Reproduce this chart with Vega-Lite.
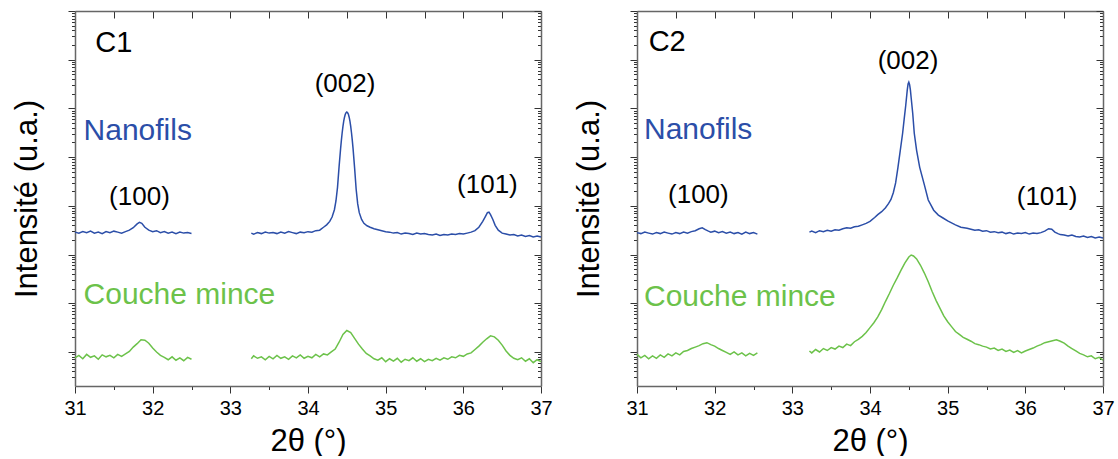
{
"$schema": "https://vega.github.io/schema/vega-lite/v6.json",
"background": "white",
"padding": {"left": 11, "top": 10, "right": 4, "bottom": 0},
"config": {
  "view": {"stroke": null},
  "font": "Liberation Sans",
  "axis": {"grid": false, "labelFont": "Liberation Sans", "titleFont": "Liberation Sans", "labelColor": "#000", "titleColor": "#000", "domainColor": "#666", "domainWidth": 1.5, "tickColor": "#333", "tickWidth": 1, "titleFontWeight": "normal"},
  "text": {"font": "Liberation Sans"}
},
"datasets": {
"c1": [
{"x":31.00,"s":"N","g":1,"i":3.46},{"x":31.05,"s":"N","g":1,"i":3.44},{"x":31.10,"s":"N","g":1,"i":3.47},{"x":31.15,"s":"N","g":1,"i":3.45},{"x":31.20,"s":"N","g":1,"i":3.48},{"x":31.25,"s":"N","g":1,"i":3.44},{"x":31.30,"s":"N","g":1,"i":3.46},{"x":31.35,"s":"N","g":1,"i":3.43},{"x":31.40,"s":"N","g":1,"i":3.47},{"x":31.45,"s":"N","g":1,"i":3.45},{"x":31.50,"s":"N","g":1,"i":3.48},{"x":31.55,"s":"N","g":1,"i":3.46},{"x":31.60,"s":"N","g":1,"i":3.44},{"x":31.65,"s":"N","g":1,"i":3.47},{"x":31.70,"s":"N","g":1,"i":3.50},{"x":31.75,"s":"N","g":1,"i":3.55},{"x":31.80,"s":"N","g":1,"i":3.63},{"x":31.83,"s":"N","g":1,"i":3.66},{"x":31.86,"s":"N","g":1,"i":3.64},{"x":31.90,"s":"N","g":1,"i":3.56},{"x":31.95,"s":"N","g":1,"i":3.50},{"x":32.00,"s":"N","g":1,"i":3.47},{"x":32.05,"s":"N","g":1,"i":3.49},{"x":32.10,"s":"N","g":1,"i":3.45},{"x":32.15,"s":"N","g":1,"i":3.47},{"x":32.20,"s":"N","g":1,"i":3.44},{"x":32.25,"s":"N","g":1,"i":3.46},{"x":32.30,"s":"N","g":1,"i":3.43},{"x":32.35,"s":"N","g":1,"i":3.46},{"x":32.40,"s":"N","g":1,"i":3.44},{"x":32.45,"s":"N","g":1,"i":3.45},{"x":32.50,"s":"N","g":1,"i":3.43},
{"x":33.27,"s":"N","g":2,"i":3.44},{"x":33.30,"s":"N","g":2,"i":3.42},{"x":33.35,"s":"N","g":2,"i":3.45},{"x":33.40,"s":"N","g":2,"i":3.43},{"x":33.45,"s":"N","g":2,"i":3.46},{"x":33.50,"s":"N","g":2,"i":3.44},{"x":33.55,"s":"N","g":2,"i":3.45},{"x":33.60,"s":"N","g":2,"i":3.43},{"x":33.65,"s":"N","g":2,"i":3.46},{"x":33.70,"s":"N","g":2,"i":3.44},{"x":33.75,"s":"N","g":2,"i":3.47},{"x":33.80,"s":"N","g":2,"i":3.45},{"x":33.85,"s":"N","g":2,"i":3.43},{"x":33.90,"s":"N","g":2,"i":3.46},{"x":33.95,"s":"N","g":2,"i":3.45},{"x":34.00,"s":"N","g":2,"i":3.47},{"x":34.05,"s":"N","g":2,"i":3.46},{"x":34.10,"s":"N","g":2,"i":3.49},{"x":34.15,"s":"N","g":2,"i":3.50},{"x":34.20,"s":"N","g":2,"i":3.56},{"x":34.24,"s":"N","g":2,"i":3.61},{"x":34.28,"s":"N","g":2,"i":3.68},{"x":34.31,"s":"N","g":2,"i":3.77},{"x":34.34,"s":"N","g":2,"i":3.92},{"x":34.36,"s":"N","g":2,"i":4.10},{"x":34.38,"s":"N","g":2,"i":4.38},{"x":34.40,"s":"N","g":2,"i":4.80},{"x":34.42,"s":"N","g":2,"i":5.18},{"x":34.43,"s":"N","g":2,"i":5.35},{"x":34.44,"s":"N","g":2,"i":5.50},{"x":34.45,"s":"N","g":2,"i":5.63},{"x":34.46,"s":"N","g":2,"i":5.74},{"x":34.47,"s":"N","g":2,"i":5.82},{"x":34.48,"s":"N","g":2,"i":5.88},{"x":34.49,"s":"N","g":2,"i":5.91},{"x":34.50,"s":"N","g":2,"i":5.925},{"x":34.51,"s":"N","g":2,"i":5.91},{"x":34.52,"s":"N","g":2,"i":5.88},{"x":34.53,"s":"N","g":2,"i":5.82},{"x":34.54,"s":"N","g":2,"i":5.74},{"x":34.55,"s":"N","g":2,"i":5.63},{"x":34.56,"s":"N","g":2,"i":5.50},{"x":34.57,"s":"N","g":2,"i":5.35},{"x":34.58,"s":"N","g":2,"i":5.18},{"x":34.60,"s":"N","g":2,"i":4.78},{"x":34.62,"s":"N","g":2,"i":4.34},{"x":34.64,"s":"N","g":2,"i":4.04},{"x":34.66,"s":"N","g":2,"i":3.86},{"x":34.69,"s":"N","g":2,"i":3.72},{"x":34.72,"s":"N","g":2,"i":3.64},{"x":34.76,"s":"N","g":2,"i":3.59},{"x":34.80,"s":"N","g":2,"i":3.56},{"x":34.85,"s":"N","g":2,"i":3.53},{"x":34.90,"s":"N","g":2,"i":3.51},{"x":34.95,"s":"N","g":2,"i":3.49},{"x":35.00,"s":"N","g":2,"i":3.47},{"x":35.05,"s":"N","g":2,"i":3.46},{"x":35.10,"s":"N","g":2,"i":3.44},{"x":35.15,"s":"N","g":2,"i":3.45},{"x":35.20,"s":"N","g":2,"i":3.42},{"x":35.25,"s":"N","g":2,"i":3.44},{"x":35.30,"s":"N","g":2,"i":3.43},{"x":35.35,"s":"N","g":2,"i":3.41},{"x":35.40,"s":"N","g":2,"i":3.44},{"x":35.45,"s":"N","g":2,"i":3.42},{"x":35.50,"s":"N","g":2,"i":3.43},{"x":35.55,"s":"N","g":2,"i":3.41},{"x":35.60,"s":"N","g":2,"i":3.40},{"x":35.65,"s":"N","g":2,"i":3.42},{"x":35.70,"s":"N","g":2,"i":3.39},{"x":35.75,"s":"N","g":2,"i":3.41},{"x":35.80,"s":"N","g":2,"i":3.40},{"x":35.85,"s":"N","g":2,"i":3.42},{"x":35.90,"s":"N","g":2,"i":3.41},{"x":35.95,"s":"N","g":2,"i":3.43},{"x":36.00,"s":"N","g":2,"i":3.42},{"x":36.05,"s":"N","g":2,"i":3.44},{"x":36.10,"s":"N","g":2,"i":3.46},{"x":36.15,"s":"N","g":2,"i":3.49},{"x":36.20,"s":"N","g":2,"i":3.56},{"x":36.25,"s":"N","g":2,"i":3.68},{"x":36.28,"s":"N","g":2,"i":3.77},{"x":36.31,"s":"N","g":2,"i":3.86},{"x":36.33,"s":"N","g":2,"i":3.87},{"x":36.35,"s":"N","g":2,"i":3.82},{"x":36.38,"s":"N","g":2,"i":3.72},{"x":36.41,"s":"N","g":2,"i":3.60},{"x":36.45,"s":"N","g":2,"i":3.50},{"x":36.50,"s":"N","g":2,"i":3.44},{"x":36.55,"s":"N","g":2,"i":3.42},{"x":36.60,"s":"N","g":2,"i":3.40},{"x":36.65,"s":"N","g":2,"i":3.41},{"x":36.70,"s":"N","g":2,"i":3.38},{"x":36.75,"s":"N","g":2,"i":3.40},{"x":36.80,"s":"N","g":2,"i":3.37},{"x":36.85,"s":"N","g":2,"i":3.39},{"x":36.90,"s":"N","g":2,"i":3.36},{"x":36.95,"s":"N","g":2,"i":3.38},{"x":37.00,"s":"N","g":2,"i":3.36},
{"x":31.00,"s":"C","g":1,"i":0.88},{"x":31.05,"s":"C","g":1,"i":0.93},{"x":31.10,"s":"C","g":1,"i":0.86},{"x":31.15,"s":"C","g":1,"i":0.95},{"x":31.20,"s":"C","g":1,"i":0.89},{"x":31.25,"s":"C","g":1,"i":0.92},{"x":31.30,"s":"C","g":1,"i":0.85},{"x":31.35,"s":"C","g":1,"i":0.94},{"x":31.40,"s":"C","g":1,"i":0.90},{"x":31.45,"s":"C","g":1,"i":0.93},{"x":31.50,"s":"C","g":1,"i":0.88},{"x":31.55,"s":"C","g":1,"i":0.95},{"x":31.60,"s":"C","g":1,"i":0.91},{"x":31.65,"s":"C","g":1,"i":0.96},{"x":31.70,"s":"C","g":1,"i":1.01},{"x":31.75,"s":"C","g":1,"i":1.10},{"x":31.80,"s":"C","g":1,"i":1.17},{"x":31.85,"s":"C","g":1,"i":1.25},{"x":31.90,"s":"C","g":1,"i":1.24},{"x":31.95,"s":"C","g":1,"i":1.18},{"x":32.00,"s":"C","g":1,"i":1.08},{"x":32.05,"s":"C","g":1,"i":1.00},{"x":32.10,"s":"C","g":1,"i":0.93},{"x":32.15,"s":"C","g":1,"i":0.89},{"x":32.20,"s":"C","g":1,"i":0.84},{"x":32.25,"s":"C","g":1,"i":0.90},{"x":32.30,"s":"C","g":1,"i":0.83},{"x":32.35,"s":"C","g":1,"i":0.88},{"x":32.40,"s":"C","g":1,"i":0.82},{"x":32.45,"s":"C","g":1,"i":0.89},{"x":32.50,"s":"C","g":1,"i":0.85},
{"x":33.27,"s":"C","g":2,"i":0.86},{"x":33.30,"s":"C","g":2,"i":0.92},{"x":33.35,"s":"C","g":2,"i":0.87},{"x":33.40,"s":"C","g":2,"i":0.90},{"x":33.45,"s":"C","g":2,"i":0.84},{"x":33.50,"s":"C","g":2,"i":0.91},{"x":33.55,"s":"C","g":2,"i":0.86},{"x":33.60,"s":"C","g":2,"i":0.93},{"x":33.65,"s":"C","g":2,"i":0.87},{"x":33.70,"s":"C","g":2,"i":0.90},{"x":33.75,"s":"C","g":2,"i":0.85},{"x":33.80,"s":"C","g":2,"i":0.92},{"x":33.85,"s":"C","g":2,"i":0.88},{"x":33.90,"s":"C","g":2,"i":0.94},{"x":33.95,"s":"C","g":2,"i":0.87},{"x":34.00,"s":"C","g":2,"i":0.91},{"x":34.05,"s":"C","g":2,"i":0.88},{"x":34.10,"s":"C","g":2,"i":0.95},{"x":34.15,"s":"C","g":2,"i":0.90},{"x":34.20,"s":"C","g":2,"i":0.96},{"x":34.25,"s":"C","g":2,"i":0.94},{"x":34.30,"s":"C","g":2,"i":1.00},{"x":34.35,"s":"C","g":2,"i":1.06},{"x":34.40,"s":"C","g":2,"i":1.20},{"x":34.45,"s":"C","g":2,"i":1.36},{"x":34.50,"s":"C","g":2,"i":1.44},{"x":34.55,"s":"C","g":2,"i":1.40},{"x":34.60,"s":"C","g":2,"i":1.28},{"x":34.65,"s":"C","g":2,"i":1.16},{"x":34.70,"s":"C","g":2,"i":1.06},{"x":34.75,"s":"C","g":2,"i":0.97},{"x":34.80,"s":"C","g":2,"i":0.92},{"x":34.85,"s":"C","g":2,"i":0.86},{"x":34.90,"s":"C","g":2,"i":0.83},{"x":34.95,"s":"C","g":2,"i":0.88},{"x":35.00,"s":"C","g":2,"i":0.80},{"x":35.05,"s":"C","g":2,"i":0.86},{"x":35.10,"s":"C","g":2,"i":0.81},{"x":35.15,"s":"C","g":2,"i":0.87},{"x":35.20,"s":"C","g":2,"i":0.79},{"x":35.25,"s":"C","g":2,"i":0.85},{"x":35.30,"s":"C","g":2,"i":0.82},{"x":35.35,"s":"C","g":2,"i":0.88},{"x":35.40,"s":"C","g":2,"i":0.81},{"x":35.45,"s":"C","g":2,"i":0.86},{"x":35.50,"s":"C","g":2,"i":0.80},{"x":35.55,"s":"C","g":2,"i":0.85},{"x":35.60,"s":"C","g":2,"i":0.82},{"x":35.65,"s":"C","g":2,"i":0.87},{"x":35.70,"s":"C","g":2,"i":0.83},{"x":35.75,"s":"C","g":2,"i":0.88},{"x":35.80,"s":"C","g":2,"i":0.85},{"x":35.85,"s":"C","g":2,"i":0.90},{"x":35.90,"s":"C","g":2,"i":0.88},{"x":35.95,"s":"C","g":2,"i":0.93},{"x":36.00,"s":"C","g":2,"i":0.91},{"x":36.05,"s":"C","g":2,"i":0.96},{"x":36.10,"s":"C","g":2,"i":0.98},{"x":36.15,"s":"C","g":2,"i":1.05},{"x":36.20,"s":"C","g":2,"i":1.12},{"x":36.25,"s":"C","g":2,"i":1.20},{"x":36.30,"s":"C","g":2,"i":1.27},{"x":36.35,"s":"C","g":2,"i":1.33},{"x":36.40,"s":"C","g":2,"i":1.31},{"x":36.45,"s":"C","g":2,"i":1.24},{"x":36.50,"s":"C","g":2,"i":1.14},{"x":36.55,"s":"C","g":2,"i":1.02},{"x":36.60,"s":"C","g":2,"i":0.93},{"x":36.65,"s":"C","g":2,"i":0.87},{"x":36.70,"s":"C","g":2,"i":0.84},{"x":36.75,"s":"C","g":2,"i":0.88},{"x":36.80,"s":"C","g":2,"i":0.81},{"x":36.85,"s":"C","g":2,"i":0.86},{"x":36.90,"s":"C","g":2,"i":0.78},{"x":36.95,"s":"C","g":2,"i":0.84},{"x":37.00,"s":"C","g":2,"i":0.80}
],
"c2": [
{"x":31.00,"s":"N","g":1,"i":3.45},{"x":31.05,"s":"N","g":1,"i":3.43},{"x":31.10,"s":"N","g":1,"i":3.46},{"x":31.15,"s":"N","g":1,"i":3.44},{"x":31.20,"s":"N","g":1,"i":3.42},{"x":31.25,"s":"N","g":1,"i":3.45},{"x":31.30,"s":"N","g":1,"i":3.43},{"x":31.35,"s":"N","g":1,"i":3.46},{"x":31.40,"s":"N","g":1,"i":3.44},{"x":31.45,"s":"N","g":1,"i":3.42},{"x":31.50,"s":"N","g":1,"i":3.45},{"x":31.55,"s":"N","g":1,"i":3.43},{"x":31.60,"s":"N","g":1,"i":3.46},{"x":31.65,"s":"N","g":1,"i":3.44},{"x":31.70,"s":"N","g":1,"i":3.47},{"x":31.75,"s":"N","g":1,"i":3.49},{"x":31.80,"s":"N","g":1,"i":3.53},{"x":31.84,"s":"N","g":1,"i":3.55},{"x":31.88,"s":"N","g":1,"i":3.51},{"x":31.92,"s":"N","g":1,"i":3.48},{"x":31.95,"s":"N","g":1,"i":3.46},{"x":32.00,"s":"N","g":1,"i":3.48},{"x":32.05,"s":"N","g":1,"i":3.45},{"x":32.10,"s":"N","g":1,"i":3.47},{"x":32.15,"s":"N","g":1,"i":3.44},{"x":32.20,"s":"N","g":1,"i":3.46},{"x":32.25,"s":"N","g":1,"i":3.43},{"x":32.30,"s":"N","g":1,"i":3.45},{"x":32.35,"s":"N","g":1,"i":3.42},{"x":32.40,"s":"N","g":1,"i":3.46},{"x":32.45,"s":"N","g":1,"i":3.43},{"x":32.50,"s":"N","g":1,"i":3.45},{"x":32.55,"s":"N","g":1,"i":3.42},
{"x":33.22,"s":"N","g":2,"i":3.46},{"x":33.25,"s":"N","g":2,"i":3.48},{"x":33.30,"s":"N","g":2,"i":3.45},{"x":33.35,"s":"N","g":2,"i":3.49},{"x":33.40,"s":"N","g":2,"i":3.47},{"x":33.45,"s":"N","g":2,"i":3.50},{"x":33.50,"s":"N","g":2,"i":3.48},{"x":33.55,"s":"N","g":2,"i":3.51},{"x":33.60,"s":"N","g":2,"i":3.50},{"x":33.65,"s":"N","g":2,"i":3.53},{"x":33.70,"s":"N","g":2,"i":3.55},{"x":33.75,"s":"N","g":2,"i":3.54},{"x":33.80,"s":"N","g":2,"i":3.57},{"x":33.85,"s":"N","g":2,"i":3.58},{"x":33.90,"s":"N","g":2,"i":3.61},{"x":33.95,"s":"N","g":2,"i":3.64},{"x":34.00,"s":"N","g":2,"i":3.68},{"x":34.06,"s":"N","g":2,"i":3.76},{"x":34.10,"s":"N","g":2,"i":3.82},{"x":34.15,"s":"N","g":2,"i":3.88},{"x":34.20,"s":"N","g":2,"i":3.96},{"x":34.24,"s":"N","g":2,"i":4.05},{"x":34.27,"s":"N","g":2,"i":4.13},{"x":34.30,"s":"N","g":2,"i":4.27},{"x":34.33,"s":"N","g":2,"i":4.47},{"x":34.36,"s":"N","g":2,"i":4.79},{"x":34.39,"s":"N","g":2,"i":5.14},{"x":34.42,"s":"N","g":2,"i":5.49},{"x":34.44,"s":"N","g":2,"i":5.78},{"x":34.46,"s":"N","g":2,"i":6.06},{"x":34.48,"s":"N","g":2,"i":6.38},{"x":34.49,"s":"N","g":2,"i":6.50},{"x":34.50,"s":"N","g":2,"i":6.54},{"x":34.51,"s":"N","g":2,"i":6.49},{"x":34.52,"s":"N","g":2,"i":6.38},{"x":34.53,"s":"N","g":2,"i":6.22},{"x":34.55,"s":"N","g":2,"i":5.90},{"x":34.57,"s":"N","g":2,"i":5.49},{"x":34.60,"s":"N","g":2,"i":5.14},{"x":34.64,"s":"N","g":2,"i":4.79},{"x":34.70,"s":"N","g":2,"i":4.43},{"x":34.75,"s":"N","g":2,"i":4.12},{"x":34.82,"s":"N","g":2,"i":3.91},{"x":34.88,"s":"N","g":2,"i":3.81},{"x":34.94,"s":"N","g":2,"i":3.75},{"x":35.00,"s":"N","g":2,"i":3.69},{"x":35.05,"s":"N","g":2,"i":3.65},{"x":35.10,"s":"N","g":2,"i":3.61},{"x":35.17,"s":"N","g":2,"i":3.56},{"x":35.25,"s":"N","g":2,"i":3.54},{"x":35.30,"s":"N","g":2,"i":3.52},{"x":35.35,"s":"N","g":2,"i":3.50},{"x":35.40,"s":"N","g":2,"i":3.51},{"x":35.45,"s":"N","g":2,"i":3.48},{"x":35.50,"s":"N","g":2,"i":3.49},{"x":35.55,"s":"N","g":2,"i":3.46},{"x":35.60,"s":"N","g":2,"i":3.47},{"x":35.65,"s":"N","g":2,"i":3.45},{"x":35.70,"s":"N","g":2,"i":3.46},{"x":35.75,"s":"N","g":2,"i":3.43},{"x":35.80,"s":"N","g":2,"i":3.45},{"x":35.85,"s":"N","g":2,"i":3.42},{"x":35.90,"s":"N","g":2,"i":3.44},{"x":35.95,"s":"N","g":2,"i":3.43},{"x":36.00,"s":"N","g":2,"i":3.45},{"x":36.05,"s":"N","g":2,"i":3.42},{"x":36.10,"s":"N","g":2,"i":3.44},{"x":36.15,"s":"N","g":2,"i":3.43},{"x":36.20,"s":"N","g":2,"i":3.45},{"x":36.25,"s":"N","g":2,"i":3.48},{"x":36.30,"s":"N","g":2,"i":3.53},{"x":36.34,"s":"N","g":2,"i":3.52},{"x":36.38,"s":"N","g":2,"i":3.46},{"x":36.42,"s":"N","g":2,"i":3.43},{"x":36.45,"s":"N","g":2,"i":3.41},{"x":36.50,"s":"N","g":2,"i":3.40},{"x":36.55,"s":"N","g":2,"i":3.38},{"x":36.60,"s":"N","g":2,"i":3.40},{"x":36.65,"s":"N","g":2,"i":3.37},{"x":36.70,"s":"N","g":2,"i":3.36},{"x":36.75,"s":"N","g":2,"i":3.38},{"x":36.80,"s":"N","g":2,"i":3.35},{"x":36.85,"s":"N","g":2,"i":3.37},{"x":36.90,"s":"N","g":2,"i":3.34},{"x":36.95,"s":"N","g":2,"i":3.36},{"x":37.00,"s":"N","g":2,"i":3.34},
{"x":31.00,"s":"C","g":1,"i":0.95},{"x":31.05,"s":"C","g":1,"i":0.88},{"x":31.10,"s":"C","g":1,"i":0.93},{"x":31.15,"s":"C","g":1,"i":0.86},{"x":31.20,"s":"C","g":1,"i":0.92},{"x":31.25,"s":"C","g":1,"i":0.87},{"x":31.30,"s":"C","g":1,"i":0.94},{"x":31.35,"s":"C","g":1,"i":0.89},{"x":31.40,"s":"C","g":1,"i":0.96},{"x":31.45,"s":"C","g":1,"i":0.92},{"x":31.50,"s":"C","g":1,"i":0.98},{"x":31.55,"s":"C","g":1,"i":0.94},{"x":31.60,"s":"C","g":1,"i":1.01},{"x":31.65,"s":"C","g":1,"i":1.03},{"x":31.70,"s":"C","g":1,"i":1.07},{"x":31.75,"s":"C","g":1,"i":1.10},{"x":31.80,"s":"C","g":1,"i":1.13},{"x":31.85,"s":"C","g":1,"i":1.17},{"x":31.90,"s":"C","g":1,"i":1.19},{"x":31.95,"s":"C","g":1,"i":1.15},{"x":32.00,"s":"C","g":1,"i":1.12},{"x":32.05,"s":"C","g":1,"i":1.07},{"x":32.10,"s":"C","g":1,"i":1.03},{"x":32.15,"s":"C","g":1,"i":0.99},{"x":32.20,"s":"C","g":1,"i":0.95},{"x":32.25,"s":"C","g":1,"i":1.00},{"x":32.30,"s":"C","g":1,"i":0.94},{"x":32.35,"s":"C","g":1,"i":0.98},{"x":32.40,"s":"C","g":1,"i":0.92},{"x":32.45,"s":"C","g":1,"i":0.97},{"x":32.50,"s":"C","g":1,"i":0.93},{"x":32.55,"s":"C","g":1,"i":0.98},
{"x":33.22,"s":"C","g":2,"i":1.02},{"x":33.25,"s":"C","g":2,"i":0.98},{"x":33.30,"s":"C","g":2,"i":1.05},{"x":33.35,"s":"C","g":2,"i":1.00},{"x":33.40,"s":"C","g":2,"i":1.07},{"x":33.45,"s":"C","g":2,"i":1.03},{"x":33.50,"s":"C","g":2,"i":1.09},{"x":33.55,"s":"C","g":2,"i":1.06},{"x":33.60,"s":"C","g":2,"i":1.12},{"x":33.65,"s":"C","g":2,"i":1.09},{"x":33.70,"s":"C","g":2,"i":1.16},{"x":33.75,"s":"C","g":2,"i":1.13},{"x":33.80,"s":"C","g":2,"i":1.21},{"x":33.85,"s":"C","g":2,"i":1.26},{"x":33.90,"s":"C","g":2,"i":1.32},{"x":33.95,"s":"C","g":2,"i":1.40},{"x":34.00,"s":"C","g":2,"i":1.50},{"x":34.05,"s":"C","g":2,"i":1.60},{"x":34.10,"s":"C","g":2,"i":1.72},{"x":34.15,"s":"C","g":2,"i":1.87},{"x":34.20,"s":"C","g":2,"i":2.04},{"x":34.25,"s":"C","g":2,"i":2.20},{"x":34.30,"s":"C","g":2,"i":2.37},{"x":34.35,"s":"C","g":2,"i":2.52},{"x":34.40,"s":"C","g":2,"i":2.68},{"x":34.45,"s":"C","g":2,"i":2.83},{"x":34.50,"s":"C","g":2,"i":2.95},{"x":34.53,"s":"C","g":2,"i":2.99},{"x":34.56,"s":"C","g":2,"i":2.97},{"x":34.60,"s":"C","g":2,"i":2.91},{"x":34.65,"s":"C","g":2,"i":2.78},{"x":34.70,"s":"C","g":2,"i":2.62},{"x":34.75,"s":"C","g":2,"i":2.44},{"x":34.80,"s":"C","g":2,"i":2.24},{"x":34.85,"s":"C","g":2,"i":2.06},{"x":34.90,"s":"C","g":2,"i":1.90},{"x":34.95,"s":"C","g":2,"i":1.74},{"x":35.00,"s":"C","g":2,"i":1.62},{"x":35.05,"s":"C","g":2,"i":1.52},{"x":35.10,"s":"C","g":2,"i":1.42},{"x":35.15,"s":"C","g":2,"i":1.36},{"x":35.20,"s":"C","g":2,"i":1.30},{"x":35.25,"s":"C","g":2,"i":1.26},{"x":35.30,"s":"C","g":2,"i":1.22},{"x":35.35,"s":"C","g":2,"i":1.17},{"x":35.40,"s":"C","g":2,"i":1.15},{"x":35.45,"s":"C","g":2,"i":1.12},{"x":35.50,"s":"C","g":2,"i":1.10},{"x":35.55,"s":"C","g":2,"i":1.06},{"x":35.60,"s":"C","g":2,"i":1.08},{"x":35.65,"s":"C","g":2,"i":1.03},{"x":35.70,"s":"C","g":2,"i":1.06},{"x":35.75,"s":"C","g":2,"i":1.01},{"x":35.80,"s":"C","g":2,"i":1.04},{"x":35.85,"s":"C","g":2,"i":0.99},{"x":35.90,"s":"C","g":2,"i":1.03},{"x":35.95,"s":"C","g":2,"i":0.98},{"x":36.00,"s":"C","g":2,"i":1.02},{"x":36.05,"s":"C","g":2,"i":1.05},{"x":36.10,"s":"C","g":2,"i":1.08},{"x":36.15,"s":"C","g":2,"i":1.12},{"x":36.20,"s":"C","g":2,"i":1.15},{"x":36.25,"s":"C","g":2,"i":1.19},{"x":36.30,"s":"C","g":2,"i":1.21},{"x":36.35,"s":"C","g":2,"i":1.23},{"x":36.40,"s":"C","g":2,"i":1.25},{"x":36.45,"s":"C","g":2,"i":1.22},{"x":36.50,"s":"C","g":2,"i":1.18},{"x":36.55,"s":"C","g":2,"i":1.12},{"x":36.60,"s":"C","g":2,"i":1.07},{"x":36.65,"s":"C","g":2,"i":1.02},{"x":36.70,"s":"C","g":2,"i":0.97},{"x":36.75,"s":"C","g":2,"i":0.94},{"x":36.80,"s":"C","g":2,"i":0.90},{"x":36.85,"s":"C","g":2,"i":0.92},{"x":36.90,"s":"C","g":2,"i":0.86},{"x":36.95,"s":"C","g":2,"i":0.89},{"x":37.00,"s":"C","g":2,"i":0.83}
]
},
"spacing": 96,
"bounds": "flush",
"hconcat": [
{
  "width": 466, "height": 375,
  "resolve": {"axis": {"x": "independent", "y": "independent"}},
  "layer": [
    {
      "data": {"name": "c1"},
      "mark": {"type": "line", "strokeWidth": 1.5},
      "encoding": {
        "x": {"field": "x", "type": "quantitative", "scale": {"domain": [31, 37], "nice": false, "zero": false},
          "axis": {"orient": "bottom", "values": [31,31.5,32,32.5,33,33.5,34,34.5,35,35.5,36,36.5,37], "tickSize": {"condition": {"test": "datum.value % 1 === 0", "value": 7}, "value": 3.5}, "labelExpr": "datum.value % 1 === 0 ? format(datum.value, 'd') : ''", "labelFontSize": 20, "labelPadding": 5, "labelFlush": false, "labelOverlap": false, "labelBound": false, "title": "2θ (°)", "titleFontSize": 31, "titlePadding": 8}},
        "y": {"field": "i", "type": "quantitative", "scale": {"domain": [0.30103, 8], "nice": false, "zero": false},
          "axis": {"orient": "left", "values": [0.47712,0.60206,0.69897,0.77815,0.8451,0.90309,0.95424,1,1.30103,1.47712,1.60206,1.69897,1.77815,1.8451,1.90309,1.95424,2,2.30103,2.47712,2.60206,2.69897,2.77815,2.8451,2.90309,2.95424,3,3.30103,3.47712,3.60206,3.69897,3.77815,3.8451,3.90309,3.95424,4,4.30103,4.47712,4.60206,4.69897,4.77815,4.8451,4.90309,4.95424,5,5.30103,5.47712,5.60206,5.69897,5.77815,5.8451,5.90309,5.95424,6,6.30103,6.47712,6.60206,6.69897,6.77815,6.8451,6.90309,6.95424,7,7.30103,7.47712,7.60206,7.69897,7.77815,7.8451,7.90309,7.95424,8], "tickSize": {"condition": {"test": "abs(datum.value - round(datum.value)) < 0.001", "value": 7}, "value": 3.5}, "labels": false, "title": "Intensité (u.a.)", "titleFontSize": 31, "titlePadding": 24}},
        "color": {"field": "s", "type": "nominal", "scale": {"domain": ["N", "C"], "range": ["#2b4ea8", "#6cc24a"]}, "legend": null},
        "detail": {"field": "g"}
      }
    },
    {
      "data": {"values": [{"x": 31.11, "i": 5.35, "t": "Nanofils", "s": "N"}, {"x": 31.11, "i": 1.98, "t": "Couche mince", "s": "C"}]},
      "mark": {"type": "text", "align": "left", "baseline": "alphabetic", "fontSize": 30},
      "encoding": {
        "x": {"field": "x", "type": "quantitative", "scale": {"domain": [31, 37], "nice": false, "zero": false}, "axis": null},
        "y": {"field": "i", "type": "quantitative", "scale": {"domain": [0.30103, 8], "nice": false, "zero": false}, "axis": null},
        "text": {"field": "t"},
        "color": {"field": "s", "type": "nominal", "legend": null}
      }
    },
    {
      "data": {"values": [{"x": 34.476, "i": 6.336, "t": "(002)"}, {"x": 31.83, "i": 4.013, "t": "(100)"}, {"x": 36.31, "i": 4.26, "t": "(101)"}]},
      "mark": {"type": "text", "align": "center", "baseline": "alphabetic", "fontSize": 26, "color": "#000"},
      "encoding": {
        "x": {"field": "x", "type": "quantitative", "scale": {"domain": [31, 37], "nice": false, "zero": false},
          "axis": {"orient": "top", "values": [31,31.5,32,32.5,33,33.5,34,34.5,35,35.5,36,36.5,37], "tickSize": -7, "labels": false, "title": null}},
        "y": {"field": "i", "type": "quantitative", "scale": {"domain": [0.30103, 8], "nice": false, "zero": false},
          "axis": {"orient": "right", "values": [0.47712,0.60206,0.69897,0.77815,0.8451,0.90309,0.95424,1,1.30103,1.47712,1.60206,1.69897,1.77815,1.8451,1.90309,1.95424,2,2.30103,2.47712,2.60206,2.69897,2.77815,2.8451,2.90309,2.95424,3,3.30103,3.47712,3.60206,3.69897,3.77815,3.8451,3.90309,3.95424,4,4.30103,4.47712,4.60206,4.69897,4.77815,4.8451,4.90309,4.95424,5,5.30103,5.47712,5.60206,5.69897,5.77815,5.8451,5.90309,5.95424,6,6.30103,6.47712,6.60206,6.69897,6.77815,6.8451,6.90309,6.95424,7,7.30103,7.47712,7.60206,7.69897,7.77815,7.8451,7.90309,7.95424,8], "tickSize": {"condition": {"test": "abs(datum.value - round(datum.value)) < 0.001", "value": -7}, "value": -3.5}, "labels": false, "title": null}},
        "text": {"field": "t"}
      }
    },
    {
      "data": {"values": [{"x": 31.26, "i": 7.16, "t": "C1"}]},
      "mark": {"type": "text", "align": "left", "baseline": "alphabetic", "fontSize": 29, "color": "#000"},
      "encoding": {
        "x": {"field": "x", "type": "quantitative", "scale": {"domain": [31, 37], "nice": false, "zero": false}, "axis": null},
        "y": {"field": "i", "type": "quantitative", "scale": {"domain": [0.30103, 8], "nice": false, "zero": false}, "axis": null},
        "text": {"field": "t"}
      }
    }
  ]
},
{
  "width": 466, "height": 375,
  "resolve": {"axis": {"x": "independent", "y": "independent"}},
  "layer": [
    {
      "data": {"name": "c2"},
      "mark": {"type": "line", "strokeWidth": 1.5},
      "encoding": {
        "x": {"field": "x", "type": "quantitative", "scale": {"domain": [31, 37], "nice": false, "zero": false},
          "axis": {"orient": "bottom", "values": [31,31.5,32,32.5,33,33.5,34,34.5,35,35.5,36,36.5,37], "tickSize": {"condition": {"test": "datum.value % 1 === 0", "value": 7}, "value": 3.5}, "labelExpr": "datum.value % 1 === 0 ? format(datum.value, 'd') : ''", "labelFontSize": 20, "labelPadding": 5, "labelFlush": false, "labelOverlap": false, "labelBound": false, "title": "2θ (°)", "titleFontSize": 31, "titlePadding": 8}},
        "y": {"field": "i", "type": "quantitative", "scale": {"domain": [0.30103, 8], "nice": false, "zero": false},
          "axis": {"orient": "left", "values": [0.47712,0.60206,0.69897,0.77815,0.8451,0.90309,0.95424,1,1.30103,1.47712,1.60206,1.69897,1.77815,1.8451,1.90309,1.95424,2,2.30103,2.47712,2.60206,2.69897,2.77815,2.8451,2.90309,2.95424,3,3.30103,3.47712,3.60206,3.69897,3.77815,3.8451,3.90309,3.95424,4,4.30103,4.47712,4.60206,4.69897,4.77815,4.8451,4.90309,4.95424,5,5.30103,5.47712,5.60206,5.69897,5.77815,5.8451,5.90309,5.95424,6,6.30103,6.47712,6.60206,6.69897,6.77815,6.8451,6.90309,6.95424,7,7.30103,7.47712,7.60206,7.69897,7.77815,7.8451,7.90309,7.95424,8], "tickSize": {"condition": {"test": "abs(datum.value - round(datum.value)) < 0.001", "value": 7}, "value": 3.5}, "labels": false, "title": "Intensité (u.a.)", "titleFontSize": 31, "titlePadding": 24}},
        "color": {"field": "s", "type": "nominal", "scale": {"domain": ["N", "C"], "range": ["#2b4ea8", "#6cc24a"]}, "legend": null},
        "detail": {"field": "g"}
      }
    },
    {
      "data": {"values": [{"x": 31.09, "i": 5.37, "t": "Nanofils", "s": "N"}, {"x": 31.09, "i": 1.94, "t": "Couche mince", "s": "C"}]},
      "mark": {"type": "text", "align": "left", "baseline": "alphabetic", "fontSize": 30},
      "encoding": {
        "x": {"field": "x", "type": "quantitative", "scale": {"domain": [31, 37], "nice": false, "zero": false}, "axis": null},
        "y": {"field": "i", "type": "quantitative", "scale": {"domain": [0.30103, 8], "nice": false, "zero": false}, "axis": null},
        "text": {"field": "t"},
        "color": {"field": "s", "type": "nominal", "legend": null}
      }
    },
    {
      "data": {"values": [{"x": 34.49, "i": 6.808, "t": "(002)"}, {"x": 31.79, "i": 4.06, "t": "(100)"}, {"x": 36.28, "i": 4.01, "t": "(101)"}]},
      "mark": {"type": "text", "align": "center", "baseline": "alphabetic", "fontSize": 26, "color": "#000"},
      "encoding": {
        "x": {"field": "x", "type": "quantitative", "scale": {"domain": [31, 37], "nice": false, "zero": false},
          "axis": {"orient": "top", "values": [31,31.5,32,32.5,33,33.5,34,34.5,35,35.5,36,36.5,37], "tickSize": -7, "labels": false, "title": null}},
        "y": {"field": "i", "type": "quantitative", "scale": {"domain": [0.30103, 8], "nice": false, "zero": false},
          "axis": {"orient": "right", "values": [0.47712,0.60206,0.69897,0.77815,0.8451,0.90309,0.95424,1,1.30103,1.47712,1.60206,1.69897,1.77815,1.8451,1.90309,1.95424,2,2.30103,2.47712,2.60206,2.69897,2.77815,2.8451,2.90309,2.95424,3,3.30103,3.47712,3.60206,3.69897,3.77815,3.8451,3.90309,3.95424,4,4.30103,4.47712,4.60206,4.69897,4.77815,4.8451,4.90309,4.95424,5,5.30103,5.47712,5.60206,5.69897,5.77815,5.8451,5.90309,5.95424,6,6.30103,6.47712,6.60206,6.69897,6.77815,6.8451,6.90309,6.95424,7,7.30103,7.47712,7.60206,7.69897,7.77815,7.8451,7.90309,7.95424,8], "tickSize": {"condition": {"test": "abs(datum.value - round(datum.value)) < 0.001", "value": -7}, "value": -3.5}, "labels": false, "title": null}},
        "text": {"field": "t"}
      }
    },
    {
      "data": {"values": [{"x": 31.15, "i": 7.18, "t": "C2"}]},
      "mark": {"type": "text", "align": "left", "baseline": "alphabetic", "fontSize": 29, "color": "#000"},
      "encoding": {
        "x": {"field": "x", "type": "quantitative", "scale": {"domain": [31, 37], "nice": false, "zero": false}, "axis": null},
        "y": {"field": "i", "type": "quantitative", "scale": {"domain": [0.30103, 8], "nice": false, "zero": false}, "axis": null},
        "text": {"field": "t"}
      }
    }
  ]
}
]
}
